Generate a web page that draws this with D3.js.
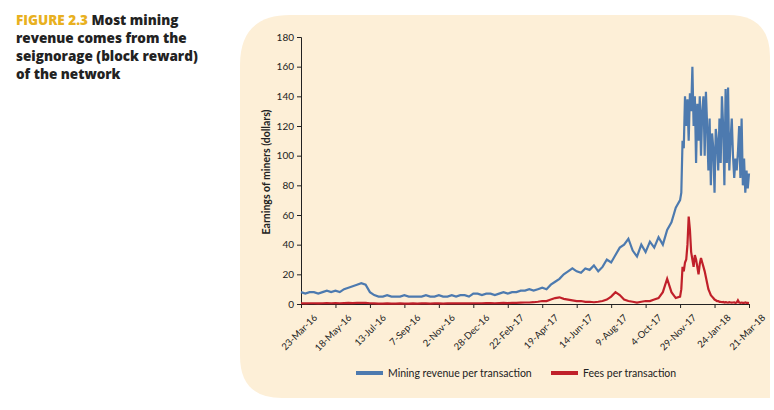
<!DOCTYPE html>
<html><head><meta charset="utf-8">
<script src="https://cdn.jsdelivr.net/npm/d3@7"></script>
<style>body{margin:0;background:#fff;font-family:Lato,"Open Sans",sans-serif;}</style>
</head><body>
<svg id="c" width="774" height="410"></svg>
<script>
// weekly values, 23-Mar-16 .. 29-Nov-17
var weeklyStart = "2016-03-23";
var revenueWeekly = [8,7,8,8,7,8,9,8, 9,8,10,11,12,13,14,13,8,
  6,5,5,6,5,5,5,6,5,5,5,5,6,5,5,6,5,5,6,5,6,6,5,7,
  7,6,7,7,6,7,8,7,8,8,9,9,
  10,9,10,11,10,13,15,17,20,22,24,22,
  21,24,23,26,22,25,30,28,33,38,40,44,
  36,32,40,35,42,38,45,40,50,55,65,70];
var feesWeekly = [0.5,0.4,0.5,0.5,0.4,0.5,0.6,0.5, 0.6,0.5,0.6,0.7,0.6,0.7,0.8,0.7,0.5,
  0.4,0.3,0.3,0.4,0.3,0.3,0.4,0.3,0.3,0.4,0.3,0.4,0.4,0.3,0.4,0.4,0.3,0.4,0.4,0.5,0.4,0.5,0.4,0.5,
  0.5,0.5,0.6,0.6,0.5,0.6,0.7,0.6,0.8,0.8,0.9,1,
  1,1.2,1.5,2,2,3,4,4.5,3.5,3,2.5,2,
  2,1.5,1.5,1.2,1.5,2,3,5,8,6,3,2,
  1.5,1,1.5,2,2,3,4,8,17,8,4,5];
// every 2 days, 1-Dec-17 .. 21-Mar-18
var dailyStart = "2017-12-01";
var revenueLate = [75,110,105,140,120,138,110,142,130,160,120,140,95,135,110,140,
  100,130,140,100,143,120,90,125,80,115,105,75,118,110,90,
  125,95,140,120,80,145,95,146,90,110,125,100,85,98,
  90,102,120,85,125,80,98,75,90,78,88];
var feesLate = [10,25,22,28,30,40,59,50,35,30,25,33,30,25,20,27,
  31,28,25,22,18,14,10,8,6,5,4,3,2.5,2,2,
  1.5,1.5,1.2,1.4,1,1.3,1.1,1,1.2,1,0.9,1,1.1,0.8,
  1,2.5,1,0.8,1,0.8,0.7,1,0.8,0.7,0.6];
var tickLabels = ["23-Mar-16","18-May-16","13-Jul-16","7-Sep-16","2-Nov-16","28-Dec-16","22-Feb-17",
  "19-Apr-17","14-Jun-17","9-Aug-17","4-Oct-17","29-Nov-17","24-Jan-18","21-Mar-18"];
var yTicks = [0,20,40,60,80,100,120,140,160,180];

var parse = d3.timeParse("%Y-%m-%d");
function series(start, step, vals){
  var d0 = parse(start);
  return vals.map(function(v,i){ return {date: d3.timeDay.offset(d0, i*step), v: v}; });
}
var rev = series(weeklyStart,7,revenueWeekly).concat(series(dailyStart,2,revenueLate));
var fee = series(weeklyStart,7,feesWeekly).concat(series(dailyStart,2,feesLate));
var tickDates = tickLabels.map(d3.timeParse("%d-%b-%y"));

var svg = d3.select("#c");
svg.append("path").attr("d","M290,15 H728 Q770,15 770,57 V398 H282 Q240,398 240,356 V65 Q240,15 290,15 Z")
  .attr("fill","#fdefd7");

var tf = "'Open Sans',sans-serif";
var title = svg.append("text").attr("x",16).attr("y",25).attr("font-weight",800).attr("font-size",13.5).attr("font-family",tf).attr("fill","#222");
title.append("tspan").attr("fill","#e8b020").text("FIGURE 2.3");
title.append("tspan").text("  Most mining");
["revenue comes from the","seignorage (block reward)","of the network"].forEach(function(t,i){
  svg.append("text").attr("x",16).attr("y",43+i*18).attr("font-weight",800).attr("font-size",13.5).attr("font-family",tf).attr("fill","#222").text(t);
});

var x = d3.scaleTime().domain([tickDates[0], tickDates[13]]).range([301,749]);
var y = d3.scaleLinear().domain([0,180]).range([304,37]);

var ya = svg.append("g").attr("transform","translate(301,0)")
  .call(d3.axisLeft(y).tickValues(yTicks).tickSize(4).tickPadding(3));
ya.selectAll("text").attr("font-size",10).attr("fill","#222").attr("font-family","Lato,sans-serif");
ya.selectAll("line,path").attr("stroke","#222");

var xa = svg.append("g").attr("transform","translate(0,304)")
  .call(d3.axisBottom(x).tickValues(tickDates).tickSize(4).tickSizeOuter(0).tickFormat(function(d,i){return tickLabels[i];}));
xa.selectAll("line,path").attr("stroke","#222");
xa.selectAll("text").attr("font-size",9.5).attr("fill","#222").attr("font-family","Lato,sans-serif")
  .attr("text-anchor","end").attr("transform","translate(8,6) rotate(-45)").attr("dy","0.5em").attr("dx","0");

svg.append("text").attr("transform","translate(270,172) rotate(-90)").attr("text-anchor","middle")
  .attr("font-size",10.5).attr("font-weight",700).attr("fill","#222").text("Earnings of miners (dollars)");

var line = d3.line().x(function(d){return x(d.date);}).y(function(d){return y(d.v);});
svg.append("path").datum(rev).attr("d",line).attr("fill","none").attr("stroke","#4d7aaf").attr("stroke-width",2.2);
svg.append("path").datum(fee).attr("d",line).attr("fill","none").attr("stroke","#c0202a").attr("stroke-width",2.2);

var leg = [{t:"Mining revenue per transaction",c:"#4d7aaf",x:356},{t:"Fees per transaction",c:"#c0202a",x:551}];
leg.forEach(function(l){
  svg.append("line").attr("x1",l.x).attr("x2",l.x+27).attr("y1",373).attr("y2",373).attr("stroke",l.c).attr("stroke-width",4);
  svg.append("text").attr("x",l.x+32).attr("y",377).attr("font-size",10.5).attr("fill","#222").text(l.t);
});
</script>
</body></html>
